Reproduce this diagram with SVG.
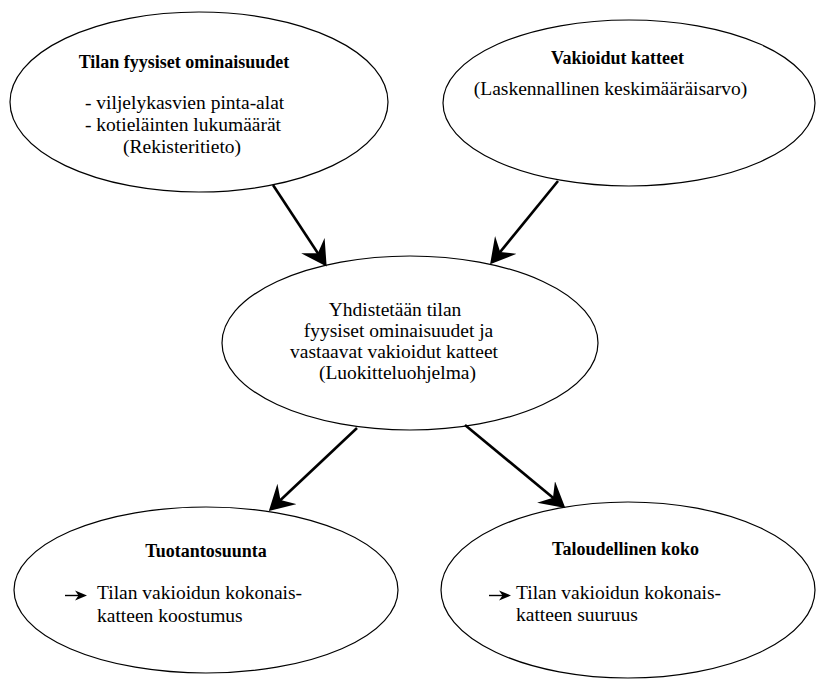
<svg xmlns="http://www.w3.org/2000/svg" width="816" height="680" viewBox="0 0 816 680">
<style>
.node ellipse{fill:#fff;stroke:#000;stroke-width:1.2}
text{fill:#000;font-size:19.5px;font-family:"Liberation Serif","Times New Roman",serif}
.b{font-weight:bold;font-size:18px}
.c{text-anchor:middle}
.conn line{stroke:#000;stroke-width:2.6;marker-end:url(#ah)}
</style>
<defs>
<marker id="ah" viewBox="0 0 25 28" markerWidth="25" markerHeight="28" refX="22" refY="14" orient="auto" markerUnits="userSpaceOnUse">
<path d="M0,0 L25,14 L0,28 L9,14 z" fill="#000"/>
</marker>
</defs>
<rect width="816" height="680" fill="#fff"/>
<g id="n1" class="node">
<ellipse cx="199" cy="102" rx="189" ry="90"/>
<text class="b c" x="184" y="68">Tilan fyysiset ominaisuudet</text>
<text x="85" y="109">- viljelykasvien pinta-alat</text>
<text x="85" y="131">- kotieläinten lukumäärät</text>
<text x="123" y="153">(Rekisteritieto)</text>
</g>
<g id="n2" class="node">
<ellipse cx="629" cy="103" rx="186" ry="83"/>
<text class="b c" x="617.5" y="64">Vakioidut katteet</text>
<text class="c" x="610.5" y="95">(Laskennallinen keskimääräisarvo)</text>
</g>
<g id="n3" class="node">
<ellipse cx="410" cy="343" rx="188" ry="87"/>
<text class="c" x="395" y="316">Yhdistetään tilan</text>
<text class="c" x="398.5" y="337">fyysiset ominaisuudet ja</text>
<text class="c" x="394" y="358">vastaavat vakioidut katteet</text>
<text class="c" x="397.5" y="379">(Luokitteluohjelma)</text>
</g>
<g id="n4" class="node">
<ellipse cx="206" cy="590" rx="192" ry="83"/>
<text class="b c" x="206" y="557">Tuotantosuunta</text>
<path d="M65,595.5 L79,595.5" stroke="#000" stroke-width="1.4" fill="none"/>
<path d="M75,590.5 L87,595.5 L75,600.5 L78.5,595.5 z" fill="#000"/>
<text x="97" y="599">Tilan vakioidun kokonais-</text>
<text x="97" y="622">katteen koostumus</text>
</g>
<g id="n5" class="node">
<ellipse cx="628" cy="590" rx="187" ry="88"/>
<text class="b c" x="625.5" y="555">Taloudellinen koko</text>
<path d="M489,595.5 L503,595.5" stroke="#000" stroke-width="1.4" fill="none"/>
<path d="M499,590.5 L511,595.5 L499,600.5 L502.5,595.5 z" fill="#000"/>
<text x="516" y="599">Tilan vakioidun kokonais-</text>
<text x="516" y="621">katteen suuruus</text>
</g>
<g id="connectors" class="conn">
<line x1="273" y1="185" x2="325" y2="264"/>
<line x1="558" y1="181" x2="492" y2="262"/>
<line x1="357" y1="428" x2="271" y2="509"/>
<line x1="465" y1="425" x2="563" y2="506"/>
</g>
</svg>
